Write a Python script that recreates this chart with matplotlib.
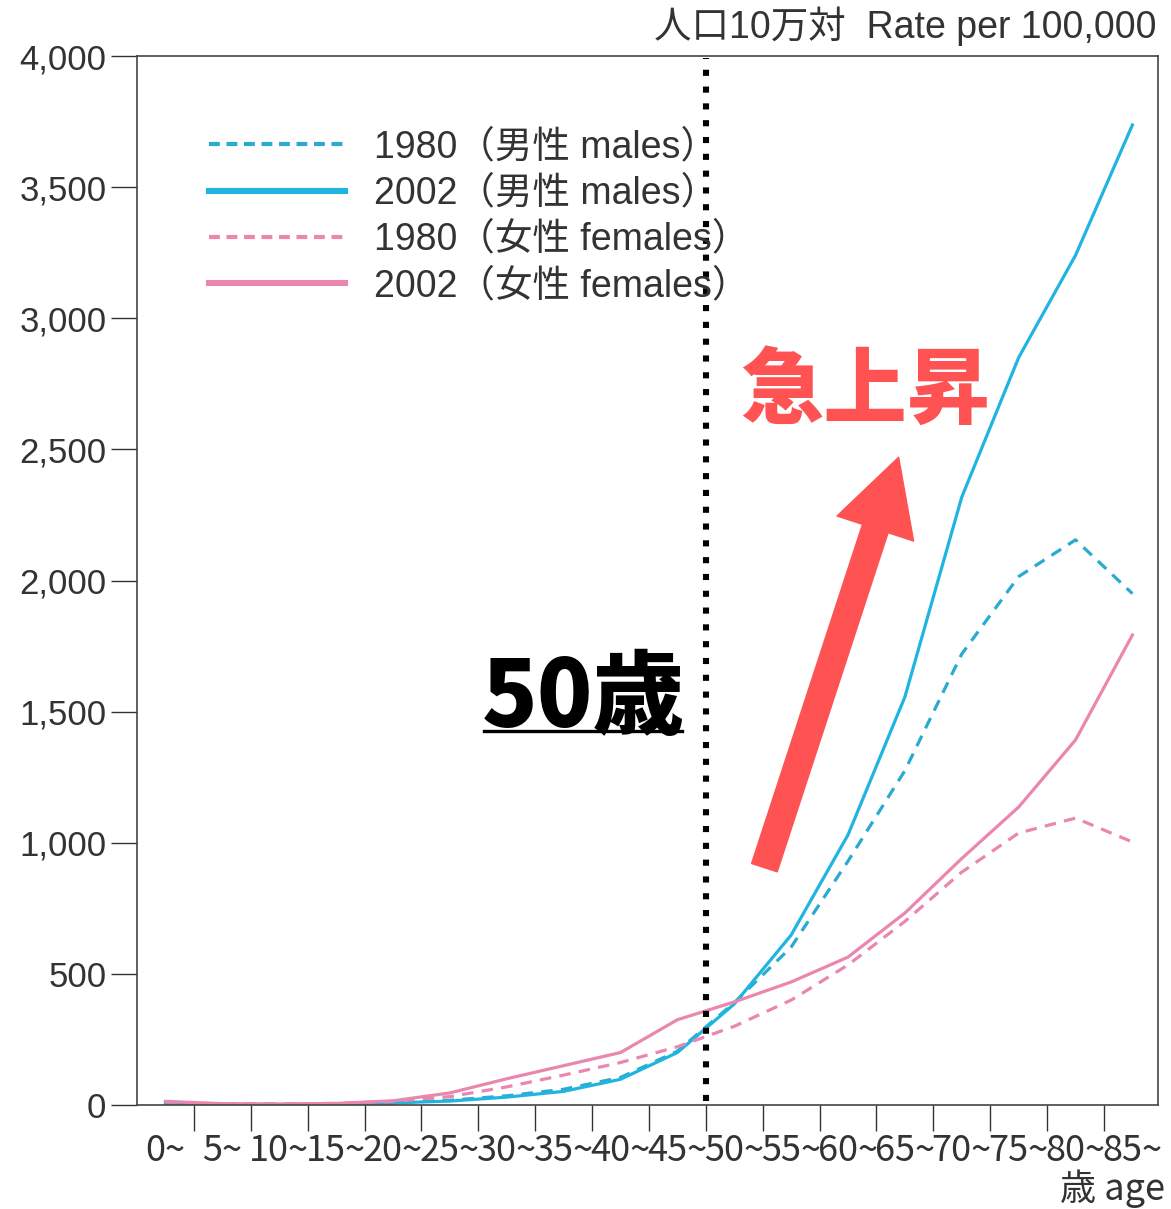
import matplotlib
matplotlib.use("Agg")
import matplotlib.pyplot as plt
from matplotlib.lines import Line2D
import numpy as np

# ---- data ----
age_labels = ["0~", "5~", "10~", "15~", "20~", "25~", "30~", "35~", "40~", "45~",
              "50~", "55~", "60~", "65~", "70~", "75~", "80~", "85~"]
males_1980 = [8, 3, 3, 4, 8, 18, 35, 60, 105, 205, 390, 602, 930, 1275, 1720, 2015, 2155, 1950]
males_2002 = [6, 2, 2, 4, 8, 15, 30, 52, 98, 200, 385, 648, 1030, 1556, 2318, 2850, 3240, 3737]
females_1980 = [12, 4, 4, 6, 14, 32, 69, 114, 162, 222, 300, 400, 534, 700, 888, 1037, 1094, 1003]
females_2002 = [14, 5, 4, 6, 16, 46, 100, 150, 200, 325, 393, 469, 564, 732, 940, 1136, 1392, 1792]
legend_labels = ["1980（男性 males）", "2002（男性 males）", "1980（女性 females）", "2002（女性 females）"]
y_ticks = [0, 500, 1000, 1500, 2000, 2500, 3000, 3500, 4000]
y_tick_labels = ["0", "500", "1,000", "1,500", "2,000", "2,500", "3,000", "3,500", "4,000"]
marker_age_index = 9.5  # boundary between 45~ and 50~

BLUE = "#22B4E0"
BLUE_D = "#2AAAD0"
PINK = "#EB86AE"
RED = "#FF5252"

LAT = ["Liberation Sans", "Noto Sans CJK JP", "DejaVu Sans"]
NARROW = ["Liberation Sans Narrow", "Noto Sans CJK JP", "DejaVu Sans"]
CJK = ["Noto Sans CJK JP", "DejaVu Sans"]

W, H = 1171, 1209
fig = plt.figure(figsize=(W / 100, H / 100), dpi=100)
ax = fig.add_axes([137 / W, 1 - 1105 / H, (1158 - 137) / W, (1105 - 56) / H])

x = np.arange(len(age_labels))
lw = 2.3
ax.plot(x, males_1980, color=BLUE_D, lw=lw, ls=(0, (3.6, 2.6)), label=legend_labels[0])
ax.plot(x, males_2002, color=BLUE, lw=lw, label=legend_labels[1])
ax.plot(x, females_1980, color=PINK, lw=lw, ls=(0, (3.6, 2.6)), label=legend_labels[2])
ax.plot(x, females_2002, color=PINK, lw=lw, label=legend_labels[3])

ax.set_xlim(-0.5, 17.45)
ax.set_ylim(0, 4000)

# ticks
ax.set_yticks(y_ticks)
ax.set_yticklabels(y_tick_labels, fontfamily=LAT, fontsize=25, color="#333333")
ax.tick_params(axis="y", direction="out", length=19, width=1.0, pad=3, colors="#333333")
ax.set_xticks(x[:-1] + 0.5)
ax.set_xticklabels([])
ax.set_xticks(x, minor=True)
ax.set_xticklabels(age_labels, minor=True, fontfamily=NARROW, fontsize=26, color="#333333")
ax.tick_params(axis="x", which="major", direction="out", length=19, width=1.0, colors="#333333")
ax.tick_params(axis="x", which="minor", length=0, pad=20)
for s in ax.spines.values():
    s.set_linewidth(1.2)
    s.set_color("#444444")

# dotted 50 line
ax.axvline(marker_age_index, ymin=0.004, ymax=0.998, color="black", lw=4.4,
           ls=(0, (1, 1.75)), dash_capstyle="butt", zorder=5)

# legend (custom handles with thicker lines)
handles = [
    Line2D([], [], color=BLUE_D, lw=3.0, ls=(0, (2.6, 1.6))),
    Line2D([], [], color=BLUE, lw=4.4),
    Line2D([], [], color=PINK, lw=3.0, ls=(0, (2.6, 1.6))),
    Line2D([], [], color=PINK, lw=4.4),
]
leg = ax.legend(handles, legend_labels, loc="upper left", bbox_to_anchor=(0.037, 0.962),
                frameon=False, handlelength=3.65, handletextpad=0.75, labelspacing=0.27,
                prop={"family": LAT, "size": 27})
for t in leg.get_texts():
    t.set_color("#333333")

# arrow annotation
ax.annotate("", xy=(12.89, 2470), xytext=(10.53, 905),
            arrowprops=dict(arrowstyle="simple,head_length=2.7,head_width=2.9,tail_width=0.97",
                            color=RED, shrinkA=0, shrinkB=0, mutation_scale=20), zorder=6)

# big texts
fig.text(865 / W, 1 - 392 / H, "急上昇", color=RED, fontsize=60, fontweight="heavy",
         fontfamily=CJK, ha="center", va="center")
fig.text(583 / W, 1 - 727 / H, "50歳", color="black", fontsize=66, fontweight="heavy",
         fontfamily=CJK, ha="center", va="baseline", style="italic")
fig.add_artist(Line2D([484 / W, 682 / W], [1 - 731 / H, 1 - 731 / H], color="black", lw=2.4))

# axis titles
fig.text(1157 / W, 1 - 38 / H, "人口10万対  Rate per 100,000", fontfamily=LAT, fontsize=27,
         color="#333333", ha="right", va="baseline")
fig.text(1165 / W, 1 - 1200 / H, "歳 age", fontfamily=NARROW, fontsize=26,
         color="#333333", ha="right", va="baseline")

fig.savefig("out.png", dpi=100)
